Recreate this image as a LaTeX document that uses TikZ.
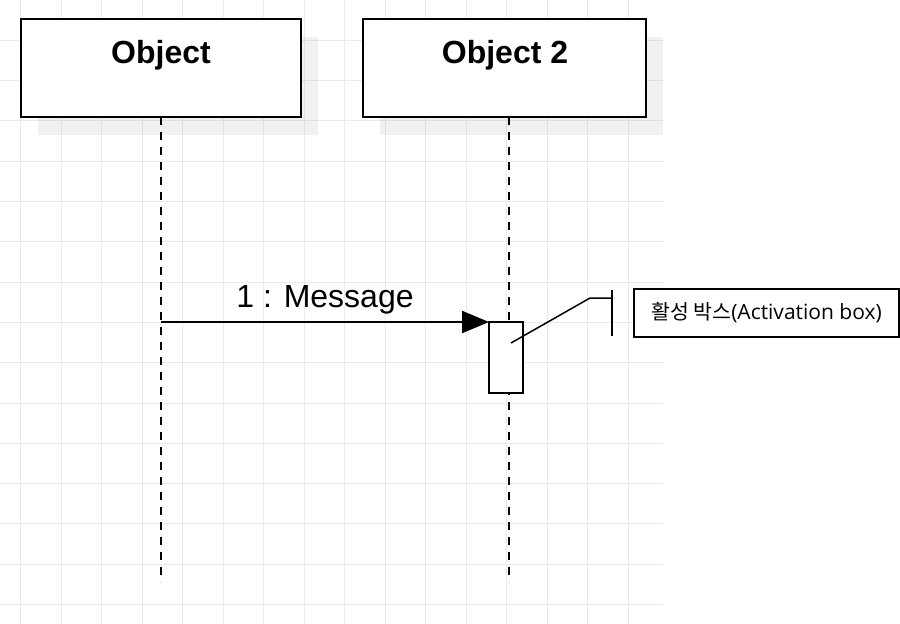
\documentclass[tikz,border=0pt]{standalone}
\usepackage{fontspec}
\setmainfont{Liberation Sans}
\newfontfamily\cjk{Noto Sans CJK KR}
\newfontfamily\uifont{Open Sans}
\usetikzlibrary{arrows.meta}
\definecolor{gridgray}{HTML}{EBEBEB}
\begin{document}
\begin{tikzpicture}[x=1pt,y=-1pt,
  gridline/.style={draw=gridgray,line width=1pt},
  shadowfill/.style={fill=black,fill opacity=0.055},
  objbox/.style={draw=black,fill=white,line width=2.4pt,inner sep=0pt,outer sep=0pt},
  objtitle/.style={font=\fontsize{32}{38}\selectfont\bfseries,inner sep=0pt},
  lifeline/.style={draw=black,line width=2.4pt,dash pattern=on 8pt off 7pt},
  actbox/.style={draw=black,fill=white,line width=2.4pt,inner sep=0pt,outer sep=0pt},
  msg/.style={draw=black,line width=2.3pt,-{Triangle[length=27pt,width=22pt]}},
  msglabel/.style={font=\fontsize{32}{38}\selectfont,inner sep=0pt},
  callout/.style={draw=black,line width=1.5pt},
  notebox/.style={draw=black,fill=white,line width=1.5pt,inner sep=0pt,outer sep=0pt}
]
\useasboundingbox (0,0) rectangle (900,624);
\fill[white] (0,0) rectangle (900,624);
% grid
\foreach \k in {1,...,15} \draw[gridline] (0,40.3*\k) -- (663,40.3*\k);
\foreach \k in {0,...,15} \draw[gridline] (20.5+40.5*\k,0) -- (20.5+40.5*\k,624);
% shadows
\fill[shadowfill] (38,37) rectangle (318,135);
\fill[shadowfill] (380,37) rectangle (663,135);
% objects
\node[objbox,minimum width=280pt,minimum height=98pt] (o1) at (161,68) {};
\node[objbox,minimum width=283pt,minimum height=98pt] (o2) at (504.5,68) {};
\node[objtitle,anchor=base] (o1t) at (161,63) {Object};
\node[objtitle,anchor=base] (o2t) at (505,63) {Object 2};
% lifelines
\coordinate (e1) at (161,582);
\coordinate (e2) at (509,582);
\draw[lifeline] (o1.south) -- (e1);
\draw[lifeline] (o2.south -| e2) -- (e2);
% activation box
\node[actbox,minimum width=34pt,minimum height=71pt] (act) at (506,357.5) {};
% message
\coordinate (m1) at (161,322);
\draw[msg] (m1) -- (act.north west);
\node[msglabel,anchor=base] (ml) at (325,307) {1 : Message};
% callout
\coordinate (c0) at (511,343);
\coordinate (c1) at (590,298);
\coordinate (c2) at (612,298);
\coordinate (b1) at (612,290);
\coordinate (b2) at (612,336);
\draw[callout] (c0) -- (c1) -- (c2);
\draw[callout] (b1) -- (b2);
\node[notebox,minimum width=265pt,minimum height=48pt] (note) at (766.5,313)
  {{\cjk\fontsize{20.5}{24}\selectfont 활성 박스}{\uifont\fontsize{21}{24}\selectfont (Activation box)}};
\end{tikzpicture}
\end{document}
